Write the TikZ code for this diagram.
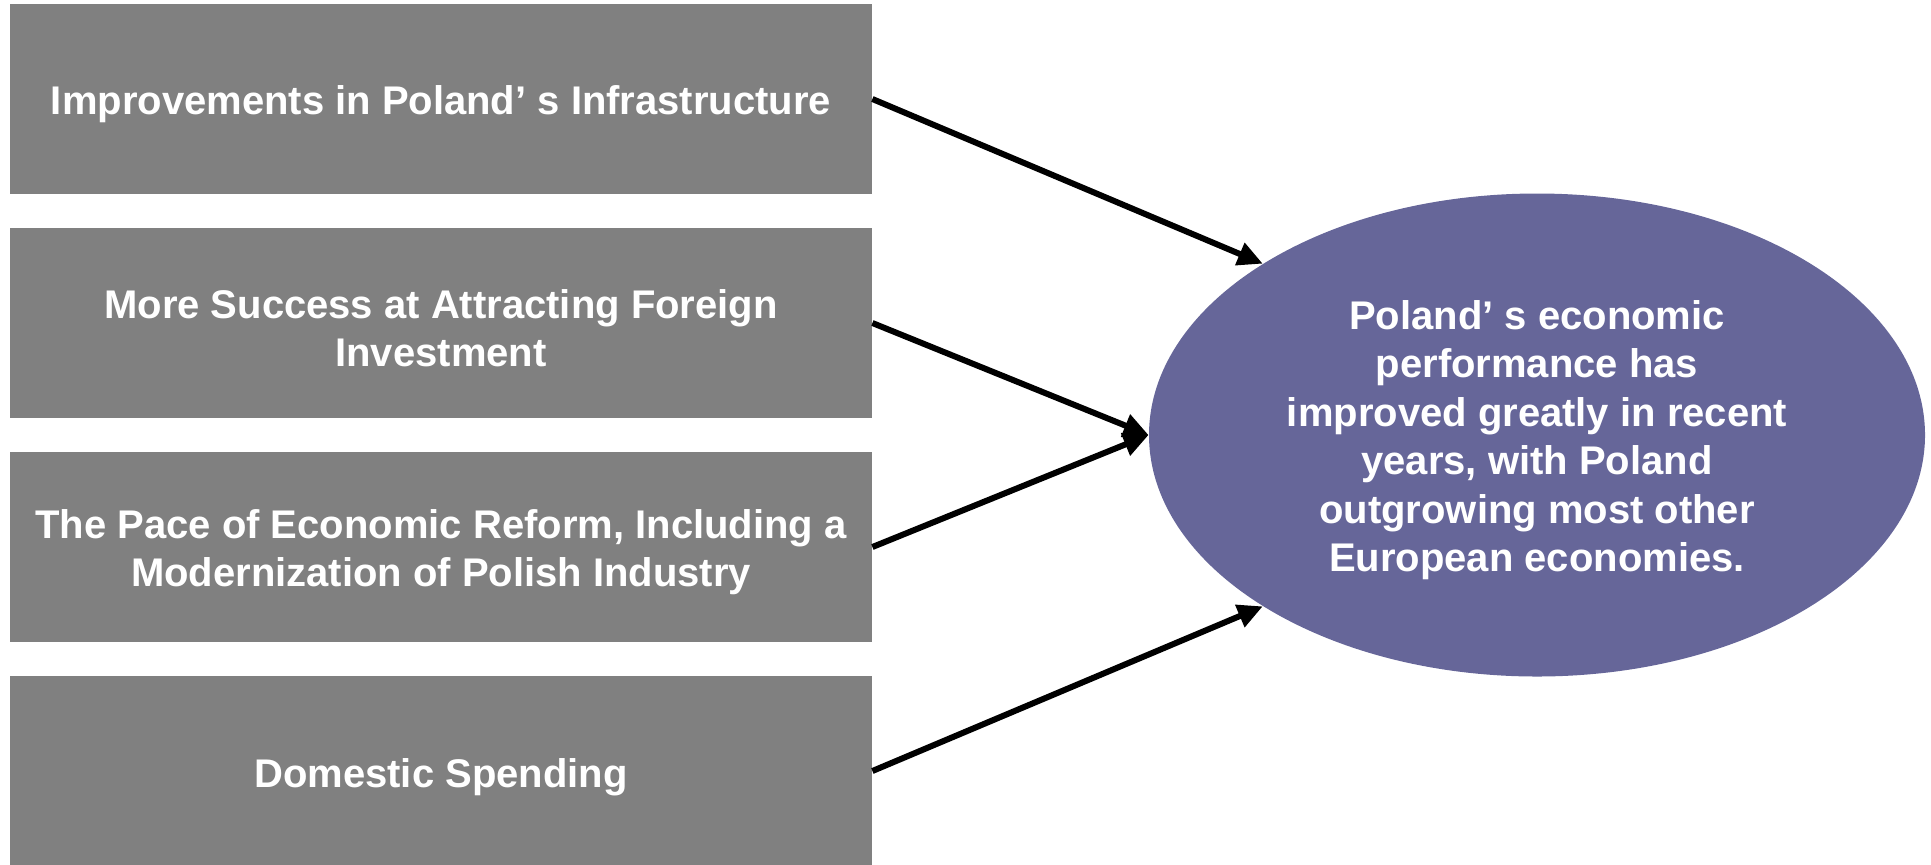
\documentclass[tikz,border=0pt]{standalone}
\usepackage{fontspec}
\setmainfont{Liberation Sans}
\usetikzlibrary{arrows.meta,shapes.geometric}
\definecolor{boxgray}{HTML}{808080}
\definecolor{ellblue}{HTML}{666699}
\begin{document}
\begin{tikzpicture}[x=0.5pt,y=-0.5pt,
  factor/.style={fill=boxgray, draw=none, minimum width=431pt, minimum height=95pt, inner sep=0pt},
  outcome/.style={ellipse, fill=ellblue, draw=none, minimum width=388pt, minimum height=241.5pt, inner sep=0pt},
  label text/.style={text=white, align=center, inner sep=0pt, font=\fontsize{20pt}{24.25pt}\selectfont\bfseries},
  link/.style={line width=3pt, -{Triangle[length=12.5pt,width=11.5pt]}}]
\useasboundingbox (0,0) rectangle (1931,864);
\node[factor] (b1) at (441,99) {};
\node[factor] (b2) at (441,323) {};
\node[factor] (b3) at (441,547) {};
\node[factor] (b4) at (441,771) {};
\node[outcome] (e) at (1537,435) {};
\node[label text] (t1) at (441,104) {Improvements in Poland’ s Infrastructure};
\node[label text] (t2) at (441,328) {More Success at Attracting Foreign\\Investment};
\node[label text] (t3) at (441,552) {The Pace of Economic Reform, Including a\\Modernization of Polish Industry};
\node[label text] (t4) at (441,777) {Domestic Spending};
\node[label text] (te) at (1537,440) {Poland’ s economic\\performance has\\improved greatly in recent\\years, with Poland\\outgrowing most other\\European economies.};
\draw[link] (b1.east) -- (e.148);
\draw[link] (b2.east) -- (e.west);
\draw[link] (b3.east) -- (e.west);
\draw[link] (b4.east) -- (e.212);
\end{tikzpicture}
\end{document}
